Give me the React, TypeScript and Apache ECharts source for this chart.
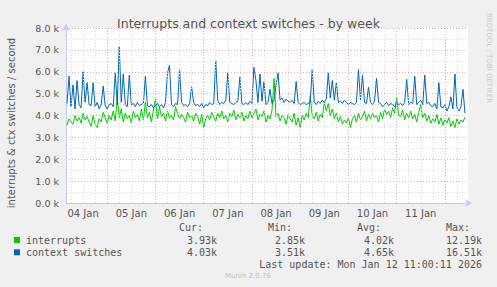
import React, { useEffect, useRef } from "react";
import * as echarts from "echarts";

// hours relative to 04 Jan 00:00 (one sample per hour)
const START_HOUR = -20;
const AXIS_MIN = -20.5;
const AXIS_MAX = 179.5;

const dayLabels = ["04 Jan", "05 Jan", "06 Jan", "07 Jan", "08 Jan", "09 Jan", "10 Jan", "11 Jan"];
const dayLabelHours = [-12, 12, 36, 60, 84, 108, 132, 156];
const majorGridHours = [0, 24, 48, 72, 96, 120, 144, 168];
const minorGridHours = [-18, -12, -6, 6, 12, 18, 30, 36, 42, 54, 60, 66, 78, 84, 90, 102, 108, 114, 126, 132, 138, 150, 156, 162, 174];

// values in thousands per second
const interrupts = [
  3.55, 3.85, 3.7, 3.6, 4.0, 3.75, 3.9, 3.65, 4.1, 3.8,
  3.95, 3.7, 3.5, 4.0, 3.6, 3.45, 3.85, 3.7, 4.15, 3.9,
  3.65, 4.0, 3.8, 4.2, 3.75, 4.8, 3.9, 4.3, 3.7, 4.1,
  3.85, 4.0, 3.65, 4.2, 3.9, 4.05, 3.75, 4.3, 3.8, 4.6,
  3.9, 4.15, 3.7, 4.25, 4.75, 3.85, 4.4, 3.95, 4.1, 3.75,
  4.2, 3.9, 4.0, 3.8, 4.4, 4.1, 3.85, 4.05, 3.9, 3.7,
  4.15, 3.9, 4.0, 3.75, 4.1, 3.95, 3.6, 4.05, 3.45, 3.85,
  4.0, 3.8, 4.15, 3.95, 3.75, 4.1, 3.9, 4.2, 3.85, 4.0,
  3.7, 4.1, 3.95, 4.25, 3.8, 4.05, 3.9, 4.15, 3.75, 4.0,
  3.85, 4.2, 3.9, 4.1, 4.3, 3.8, 4.05, 3.95, 4.2, 3.7,
  4.0, 3.85, 4.25, 5.7, 3.95, 4.1, 3.75, 4.0, 3.9, 3.6,
  4.05, 3.85, 3.7, 4.1, 3.55, 3.9, 3.45, 4.0, 3.8, 4.1,
  3.9, 4.9, 4.0, 3.85, 4.15, 3.75, 4.05, 3.9, 4.6, 4.2,
  4.55, 4.0, 4.3, 3.85, 4.1, 3.7, 3.95, 3.6, 3.8, 3.65,
  3.9, 3.45, 3.85, 4.0, 3.7, 4.1, 3.8, 3.95, 4.2, 3.75,
  4.05, 3.85, 4.1, 3.9, 4.0, 3.7, 4.15, 3.85, 4.3, 4.05,
  4.2, 3.9, 4.35, 4.1, 4.85, 4.0, 3.95, 4.25, 3.8, 4.1,
  3.9, 4.2, 3.85, 4.05, 3.7, 4.15, 4.5, 3.9, 4.1, 3.75,
  4.0, 3.65, 3.85, 3.7, 4.05, 3.6, 3.9, 3.55, 3.8, 3.65,
  3.9, 3.5, 3.75, 3.45, 3.85, 3.6, 3.8, 3.7, 3.93,
];

const contextSwitches = [
  4.55, 5.8, 4.4, 5.4, 4.3, 5.6, 4.5, 4.35, 6.0, 4.6,
  5.5, 4.5, 4.45, 5.5, 4.4, 4.6, 4.3, 4.5, 5.35, 4.45,
  4.3, 4.5, 4.55, 4.4, 5.95, 4.5, 7.15, 4.6, 5.9, 4.5,
  4.4, 5.85, 4.5, 4.55, 4.4, 4.6, 4.45, 4.5, 4.55, 5.8,
  4.45, 4.4, 4.5, 4.35, 4.45, 4.55, 4.4, 4.5, 4.35, 4.6,
  5.95, 6.3, 4.5, 4.4, 4.55, 4.5, 6.1, 4.6, 4.45, 4.5,
  4.4, 4.55, 5.3, 4.6, 4.45, 4.5, 4.4, 4.55, 4.35, 4.5,
  4.45, 4.6, 4.5, 4.55, 6.5, 4.7, 4.5, 4.6, 4.55, 4.7,
  5.95, 4.6, 4.55, 4.5, 4.6, 4.65, 5.75, 4.55, 4.5, 4.6,
  4.5, 4.65, 4.55, 6.2, 5.6, 4.6, 5.9, 4.65, 5.55, 4.5,
  4.6, 5.2, 4.55, 4.7, 5.4, 5.95, 4.7, 4.8, 4.6, 4.75,
  4.65, 4.6, 4.7, 4.55, 5.55, 4.6, 4.5, 4.55, 4.6, 4.5,
  4.55, 4.6, 6.1, 4.6, 4.5, 4.65, 4.55, 4.7, 4.6, 4.75,
  5.95, 4.8, 5.6, 4.7, 5.5, 4.6, 4.65, 4.55, 4.7, 4.6,
  4.5, 4.6, 4.55, 4.5, 4.6, 6.1, 4.7, 5.85, 4.6, 4.55,
  5.3, 4.6, 4.5, 4.65, 5.7, 4.6, 4.55, 4.4, 4.5, 4.6,
  4.45, 4.55, 4.5, 4.4, 4.6, 4.5, 4.55, 4.45, 4.6, 5.65,
  4.5, 4.6, 4.55, 5.8, 4.5, 4.6, 4.7, 4.5, 5.85, 4.55,
  4.6, 4.45, 4.4, 4.55, 4.3, 5.5, 4.4, 4.35, 4.5, 4.2,
  4.4, 4.85, 4.3, 5.9, 4.35, 4.2, 4.4, 5.2, 4.1,
];

const legendNames = ["interrupts", "context switches"];
const legendColors = ["#00cc00", "#0066b3"];
const statHeaders = ["Cur:", "Min:", "Avg:", "Max:"];
const statsInterrupts = ["3.93k", "2.85k", "4.02k", "12.19k"];
const statsContext = ["4.03k", "3.51k", "4.65k", "16.51k"];
const lastUpdate = "Last update: Mon Jan 12 11:00:11 2026";
const version = "Munin 2.0.76";

const toPairs = (vals: number[]) => vals.map((v, i) => [START_HOUR + i, v]);

export default function App() {
  const ref = useRef<HTMLDivElement>(null);
  useEffect(() => {
    if (!ref.current) return;
    const chart = echarts.init(ref.current, undefined, { renderer: "svg" });
    const mono = "DejaVu Sans Mono";
    const sans = "DejaVu Sans";
    const headerRight = [203, 292, 381, 470];
    const valueRight = [217, 305, 394, 482];
    const graphics: any[] = [];
    statHeaders.forEach((h, i) => {
      graphics.push({ type: "text", x: headerRight[i], y: 227, style: { text: h, fill: "#555", font: `10px "${mono}"`, align: "right", verticalAlign: "middle" } });
    });
    [statsInterrupts, statsContext].forEach((row, r) => {
      const y = 240 + r * 12.3;
      graphics.push({ type: "rect", shape: { x: 14, y: y - 3, width: 6, height: 6 }, style: { fill: legendColors[r] } });
      graphics.push({ type: "text", x: 26, y, style: { text: legendNames[r], fill: "#555", font: `10px "${mono}"`, align: "left", verticalAlign: "middle" } });
      row.forEach((v, i) => {
        graphics.push({ type: "text", x: valueRight[i], y, style: { text: v, fill: "#555", font: `10px "${mono}"`, align: "right", verticalAlign: "middle" } });
      });
    });
    graphics.push({ type: "text", x: 482, y: 264, style: { text: lastUpdate, fill: "#555", font: `10px "${mono}"`, align: "right", verticalAlign: "middle" } });
    graphics.push({ type: "text", x: 248, y: 276, style: { text: version, fill: "#c0c0c0", font: `7px "${sans}"`, align: "center", verticalAlign: "middle" } });
    graphics.push({ type: "text", x: 11, y: 123, rotation: Math.PI / 2, style: { text: "interrupts & ctx switches / second", fill: "#555", font: `10px "${sans}"`, align: "center", verticalAlign: "middle" } });
    graphics.push({ type: "text", x: 489, y: 58, rotation: -Math.PI / 2, style: { text: "RRDTOOL / TOBI OETIKER", fill: "#cccccc", font: `7px "${sans}"`, align: "center", verticalAlign: "middle" } });

    const dotted = [1, 2];
    chart.setOption({
      animation: false,
      backgroundColor: "#f0f0f0",
      title: {
        text: "Interrupts and context switches - by week",
        left: "center",
        top: 12,
        textStyle: { fontFamily: sans, fontSize: 12.5, fontWeight: "normal", color: "#555" },
      },
      grid: { left: 66, right: 29, top: 28, bottom: 84, show: true, backgroundColor: "#ffffff", borderWidth: 0 },
      xAxis: {
        type: "value",
        min: AXIS_MIN,
        max: AXIS_MAX,
        axisLine: { show: true, onZero: false, lineStyle: { color: "#c8c8f0" }, symbol: ["none", "arrow"], symbolSize: [6, 7], symbolOffset: [0, 4] },
        axisTick: { show: false },
        splitLine: { show: false },
        axisLabel: {
          customValues: dayLabelHours,
          formatter: (v: number) => {
            const idx = dayLabelHours.indexOf(Math.round(v));
            return idx >= 0 ? dayLabels[idx] : "";
          },
          color: "#555",
          fontFamily: sans,
          fontSize: 10,
          margin: 5,
        },
      },
      yAxis: {
        type: "value",
        min: 0,
        max: 8,
        interval: 1,
        axisLine: { show: true, onZero: false, lineStyle: { color: "#c8c8f0" }, symbol: ["none", "arrow"], symbolSize: [6, 7], symbolOffset: [0, 4] },
        axisTick: { show: false },
        axisLabel: { formatter: (v: number) => v.toFixed(1) + " k", color: "#555", fontFamily: sans, fontSize: 9.5, margin: 7 },
        splitLine: { show: true, lineStyle: { color: "#eeaaaa", type: dotted, width: 1 } },
        minorTick: { show: false, splitNumber: 2 },
        minorSplitLine: { show: true, lineStyle: { color: "#d8d8d8", type: dotted, width: 1 } },
      },
      series: [
        {
          type: "line",
          data: [],
          silent: true,
          z: 1,
          markLine: {
            silent: true,
            symbol: ["none", "none"],
            label: { show: false },
            animation: false,
            data: [
              ...minorGridHours.map((h) => ({ xAxis: h, lineStyle: { color: "#d8d8d8", type: dotted, width: 1 } })),
              ...majorGridHours.map((h) => ({ xAxis: h, lineStyle: { color: "#eeaaaa", type: dotted, width: 1 } })),
            ],
          },
        },
        {
          name: legendNames[0],
          type: "line",
          data: toPairs(interrupts),
          showSymbol: false,
          z: 2,
          lineStyle: { color: legendColors[0], width: 1 },
          itemStyle: { color: legendColors[0] },
        },
        {
          name: legendNames[1],
          type: "line",
          data: toPairs(contextSwitches),
          showSymbol: false,
          z: 3,
          lineStyle: { color: legendColors[1], width: 1 },
          itemStyle: { color: legendColors[1] },
        },
      ],
      graphic: graphics,
    });
    return () => chart.dispose();
  }, []);
  return <div ref={ref} style={{ position: "absolute", left: 0, top: 0, width: 497, height: 287 }} />;
}
